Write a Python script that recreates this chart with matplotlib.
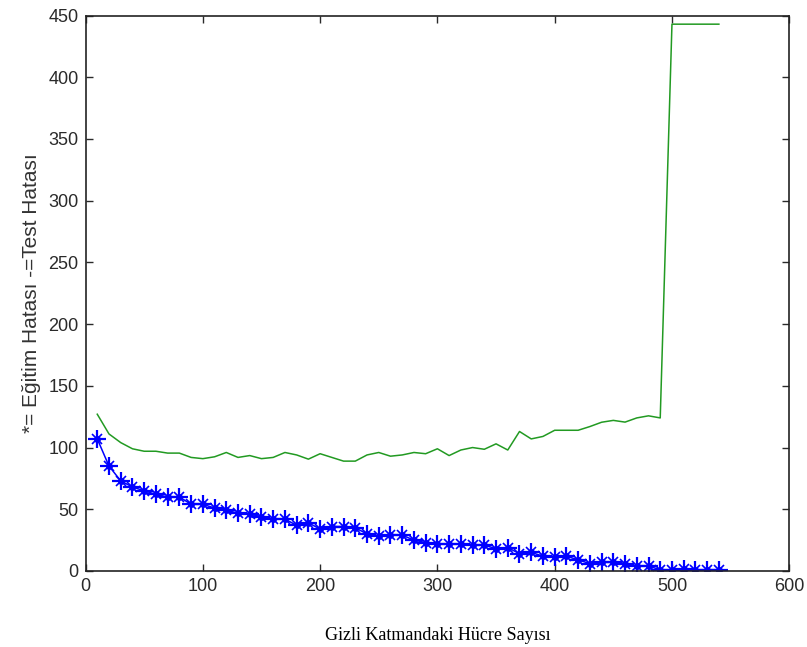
import numpy as np
import matplotlib
matplotlib.use("Agg")
import matplotlib.pyplot as plt

# hidden-layer cell counts
cells = np.arange(10, 550, 10)

# training error (plotted with asterisks)
train_error = [107, 85, 73, 68, 65, 62, 60, 60, 54, 54,
               51, 49, 47, 46, 44, 42, 42, 37, 39, 34,
               36, 36, 35, 30, 28, 29, 29, 25, 23, 22,
               22, 22, 21, 21, 18, 19, 14, 15, 12, 11,
               12, 9, 6, 7, 7, 6, 4, 4, 1, 1,
               1.5, 1, 1, 1]

# test error (plain line)
test_error = [127, 111, 104, 99, 97, 97, 95.5, 95.5, 92, 91,
              92.5, 96, 92, 93.5, 91, 92, 96, 94, 90.6, 95,
              92, 89, 89, 94, 96, 93, 94, 96, 95, 99,
              93.5, 98, 100, 98.6, 103, 98, 113, 107, 109, 114,
              114, 114, 117, 120.5, 122, 120.6, 124, 125.7, 124, 443,
              443, 443, 443, 443]

x_ticks = [0, 100, 200, 300, 400, 500, 600]
y_ticks = [0, 50, 100, 150, 200, 250, 300, 350, 400, 450]

plt.rcParams["font.family"] = ["Liberation Sans", "DejaVu Sans"]

fig = plt.figure(figsize=(8.07, 6.47), dpi=100)
ax = fig.add_axes([0.106, 0.1175, 0.872, 0.8585])

ax.plot(cells, test_error, color="#229a22", linewidth=1.1)
# asterisk: long plus arms with shorter diagonals and a solid centre
ax.plot(cells, train_error, color="#0000ff", linewidth=1.1,
        marker="+", markersize=13, markeredgewidth=1.6)
ax.plot(cells, train_error, color="#0000ff", linestyle="none",
        marker="x", markersize=7, markeredgewidth=1.2)
ax.plot(cells, train_error, color="#0000ff", linestyle="none",
        marker="o", markersize=4)

ax.set_xlim(0, 600)
ax.set_ylim(0, 450)
ax.set_xticks(x_ticks)
ax.set_yticks(y_ticks)
ax.tick_params(direction="in", top=True, right=True, labelsize=13,
               length=5, width=1.0, colors="#2a2a2a", pad=5)
for side in ax.spines.values():
    side.set_linewidth(1.2)
    side.set_color("#222222")

ax.set_ylabel("*= Eğitim Hatası -=Test Hatası", fontsize=15, color="#333333",
              labelpad=5)
ax.set_xlabel("Gizli Katmandaki Hücre Sayısı", fontsize=13,
              family=["Liberation Serif", "DejaVu Serif"], labelpad=23)

fig.savefig("out.png", dpi=100)
